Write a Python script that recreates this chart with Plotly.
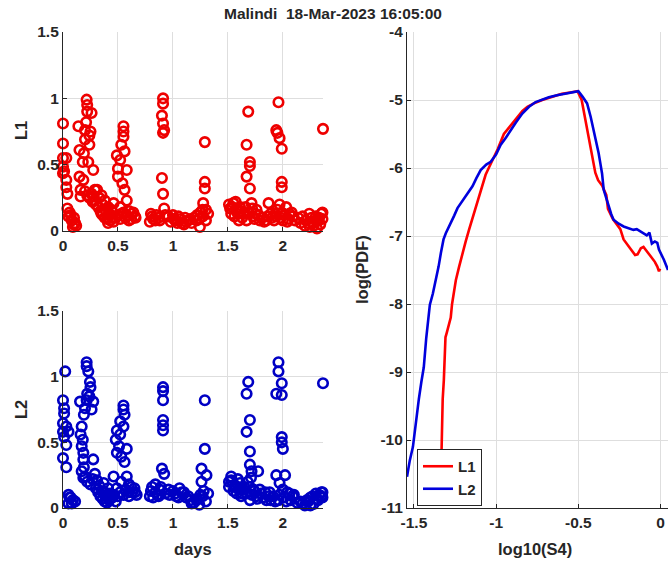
import plotly.graph_objects as go

# ---------------- data ----------------
# L1 scatter: (days, S4)
l1_points = [
    (0.0, 0.81), (0.0, 0.66), (0.0, 0.55), (0.0, 0.485), (0.0, 0.435), (0.01, 0.45),
    (0.03, 0.55), (0.03, 0.385), (0.03, 0.33), (0.04, 0.28), (0.04, 0.17), (0.05, 0.11),
    (0.06, 0.14), (0.08, 0.08), (0.11, 0.06), (0.09, 0.03), (0.1, 0.05), (0.12, 0.04),
    (0.14, 0.79), (0.15, 0.61), (0.15, 0.41), (0.16, 0.31), (0.16, 0.26), (0.185, 0.385),
    (0.18, 0.52), (0.19, 0.585), (0.2, 0.69), (0.2, 0.76), (0.21, 0.82), (0.215, 0.99),
    (0.22, 0.95), (0.22, 0.9), (0.24, 0.72), (0.26, 0.89), (0.23, 0.52), (0.275, 0.46),
    (0.24, 0.65), (0.25, 0.75), (0.26, 0.28), (0.29, 0.31), (0.31, 0.31), (0.29, 0.23),
    (0.33, 0.25), (0.35, 0.27), (0.35, 0.13), (0.36, 0.2), (0.38, 0.23), (0.39, 0.15),
    (0.41, 0.18), (0.42, 0.13), (0.43, 0.08), (0.41, 0.06), (0.45, 0.1), (0.44, 0.16),
    (0.46, 0.21), (0.49, 0.57), (0.5, 0.47), (0.5, 0.41), (0.53, 0.65), (0.52, 0.535),
    (0.55, 0.79), (0.55, 0.75), (0.55, 0.71), (0.56, 0.6), (0.54, 0.36), (0.56, 0.31),
    (0.58, 0.46), (0.58, 0.23), (0.53, 0.13), (0.52, 0.18), (0.6, 0.15), (0.625, 0.13),
    (0.655, 0.11), (0.6, 0.08), (0.57, 0.1),
    (0.91, 1.0), (0.91, 0.96), (0.9, 0.87), (0.91, 0.81), (0.92, 0.76), (0.91, 0.74),
    (0.9, 0.4), (0.91, 0.28), (0.92, 0.17), (0.81, 0.11), (0.84, 0.08), (0.79, 0.07),
    (0.87, 0.1), (0.96, 0.11), (1.0, 0.12), (1.02, 0.08), (1.05, 0.11), (1.08, 0.06),
    (1.11, 0.1), (1.14, 0.08), (1.17, 0.06), (1.215, 0.08), (1.245, 0.03),
    (1.29, 0.67), (1.29, 0.37), (1.29, 0.32), (1.275, 0.21), (1.3, 0.16), (1.27, 0.11),
    (1.32, 0.13), (1.3, 0.08),
    (1.52, 0.17), (1.53, 0.13), (1.55, 0.21), (1.58, 0.16), (1.61, 0.18), (1.56, 0.11),
    (1.6, 0.08), (1.64, 0.13), (1.67, 0.08), (1.685, 0.9), (1.67, 0.65), (1.7, 0.52),
    (1.7, 0.49), (1.67, 0.41), (1.7, 0.32), (1.715, 0.21), (1.73, 0.11), (1.76, 0.16),
    (1.79, 0.08), (1.75, 0.13), (1.87, 0.21), (1.89, 0.13), (1.92, 0.08), (1.85, 0.08),
    (1.96, 0.97), (1.94, 0.76), (1.95, 0.74), (1.97, 0.7), (1.99, 0.62), (1.99, 0.37),
    (1.99, 0.33), (1.97, 0.2), (1.99, 0.14), (2.03, 0.18), (2.06, 0.13), (2.09, 0.11),
    (2.0, 0.08), (1.94, 0.11), (2.04, 0.07),
    (2.18, 0.11), (2.21, 0.08), (2.245, 0.03), (2.27, 0.06), (2.3, 0.11), (2.35, 0.13),
    (2.32, 0.08), (2.24, 0.13), (2.34, 0.05), (2.365, 0.77),
]
# dense low-level L1 samples
l1_low_points = [
    (0.2, 0.3), (0.22, 0.27), (0.24, 0.25), (0.27, 0.22), (0.3, 0.2), (0.28, 0.26),
    (0.32, 0.18), (0.34, 0.15), (0.36, 0.12), (0.38, 0.1), (0.4, 0.09), (0.43, 0.12),
    (0.46, 0.07), (0.48, 0.1), (0.5, 0.12), (0.52, 0.09), (0.55, 0.14), (0.58, 0.12),
    (0.62, 0.09), (0.64, 0.14), (0.66, 0.1), (0.1, 0.1), (0.07, 0.12),
    (0.8, 0.13), (0.82, 0.09), (0.85, 0.12), (0.88, 0.08), (0.93, 0.12), (0.98, 0.07),
    (1.01, 0.09), (1.04, 0.06), (1.07, 0.09), (1.1, 0.05), (1.12, 0.07), (1.16, 0.09),
    (1.19, 0.1), (1.22, 0.12), (1.25, 0.14), (1.24, 0.09), (1.27, 0.16),
    (1.51, 0.2), (1.54, 0.18), (1.57, 0.22), (1.59, 0.13), (1.62, 0.15), (1.63, 0.1),
    (1.66, 0.18), (1.69, 0.14), (1.72, 0.17), (1.74, 0.09), (1.78, 0.12), (1.81, 0.1),
    (1.83, 0.07), (1.86, 0.11), (1.9, 0.1), (1.93, 0.13), (1.95, 0.16), (1.98, 0.1),
    (2.01, 0.12), (2.05, 0.09), (2.08, 0.14), (2.11, 0.08), (2.14, 0.1), (2.16, 0.06),
    (2.2, 0.04), (2.23, 0.06), (2.26, 0.1), (2.28, 0.04), (2.31, 0.02), (2.33, 0.1),
    (2.36, 0.14), (2.36, 0.09),
]

# L2 scatter: (days, S4)
l2_points = [
    (0.02, 1.04), (0.0, 0.82), (0.01, 0.76), (0.01, 0.72), (0.0, 0.645), (0.0, 0.58),
    (0.03, 0.62), (0.01, 0.54), (0.03, 0.48), (0.0, 0.38), (0.03, 0.31), (0.05, 0.58),
    (0.05, 0.1), (0.07, 0.08), (0.09, 0.06), (0.08, 0.035), (0.05, 0.035), (0.11, 0.05),
    (0.215, 1.11), (0.215, 1.08), (0.23, 1.04), (0.245, 0.96), (0.25, 0.92), (0.22, 0.87),
    (0.215, 0.82), (0.275, 0.81), (0.155, 0.81), (0.2, 0.76), (0.19, 0.71), (0.17, 0.62),
    (0.16, 0.56), (0.18, 0.52), (0.17, 0.47), (0.185, 0.42), (0.185, 0.37), (0.19, 0.31),
    (0.17, 0.28), (0.185, 0.23), (0.275, 0.37), (0.24, 0.85), (0.26, 0.75),
    (0.29, 0.26), (0.31, 0.21), (0.33, 0.17), (0.37, 0.19), (0.41, 0.15), (0.43, 0.11),
    (0.42, 0.06), (0.39, 0.09), (0.35, 0.13), (0.46, 0.24), (0.45, 0.08), (0.38, 0.12),
    (0.55, 0.78), (0.55, 0.75), (0.56, 0.71), (0.52, 0.66), (0.55, 0.62), (0.49, 0.59),
    (0.52, 0.56), (0.48, 0.52), (0.51, 0.47), (0.58, 0.45), (0.49, 0.42), (0.53, 0.39),
    (0.56, 0.35), (0.58, 0.24), (0.62, 0.16), (0.655, 0.12), (0.6, 0.12), (0.53, 0.2),
    (0.49, 0.15), (0.6, 0.09),
    (0.91, 0.92), (0.91, 0.89), (0.91, 0.82), (0.91, 0.67), (0.91, 0.63), (0.91, 0.59),
    (0.9, 0.3), (0.92, 0.26), (0.81, 0.16), (0.84, 0.12), (0.87, 0.09), (0.79, 0.09),
    (0.89, 0.16), (0.96, 0.14), (1.02, 0.11), (1.08, 0.12), (1.14, 0.09), (1.05, 0.08),
    (1.17, 0.035), (1.215, 0.06), (1.24, 0.025),
    (1.29, 0.82), (1.29, 0.45), (1.26, 0.3), (1.305, 0.25), (1.26, 0.2), (1.32, 0.11),
    (1.27, 0.09),
    (1.51, 0.16), (1.53, 0.21), (1.56, 0.16), (1.61, 0.19), (1.64, 0.14), (1.58, 0.11),
    (1.67, 0.11), (1.62, 0.09), (1.685, 0.96), (1.67, 0.87), (1.7, 0.67), (1.67, 0.58),
    (1.7, 0.43), (1.7, 0.33), (1.715, 0.28), (1.775, 0.28), (1.71, 0.23), (1.73, 0.14),
    (1.76, 0.09), (1.8, 0.11), (1.7, 0.06), (1.87, 0.09), (1.89, 0.06), (1.84, 0.12),
    (1.96, 1.11), (1.96, 1.04), (1.99, 0.95), (1.94, 0.87), (1.99, 0.86), (1.99, 0.54),
    (1.99, 0.5), (2.0, 0.45), (1.94, 0.25), (2.02, 0.25), (1.97, 0.19), (2.0, 0.14),
    (2.06, 0.11), (2.09, 0.09), (1.96, 0.06), (2.03, 0.05),
    (2.18, 0.035), (2.23, 0.05), (2.27, 0.09), (2.3, 0.11), (2.35, 0.12), (2.32, 0.06),
    (2.25, 0.02), (2.35, 0.09), (2.365, 0.95),
]
# dense low-level L2 samples
l2_low_points = [
    (0.2, 0.24), (0.22, 0.2), (0.25, 0.18), (0.27, 0.22), (0.3, 0.15), (0.32, 0.12),
    (0.34, 0.09), (0.36, 0.07), (0.38, 0.05), (0.4, 0.04), (0.43, 0.07), (0.46, 0.1),
    (0.48, 0.05), (0.5, 0.09), (0.52, 0.12), (0.55, 0.1), (0.57, 0.14), (0.6, 0.18),
    (0.63, 0.12), (0.65, 0.15), (0.67, 0.1), (0.06, 0.08),
    (0.8, 0.13), (0.82, 0.08), (0.84, 0.18), (0.86, 0.1), (0.88, 0.14), (0.93, 0.11),
    (0.97, 0.1), (1.0, 0.13), (1.03, 0.09), (1.06, 0.15), (1.1, 0.12), (1.12, 0.08),
    (1.16, 0.06), (1.19, 0.04), (1.22, 0.07), (1.25, 0.1), (1.28, 0.13), (1.3, 0.05),
    (1.51, 0.2), (1.53, 0.24), (1.55, 0.13), (1.57, 0.17), (1.59, 0.22), (1.6, 0.14),
    (1.63, 0.11), (1.65, 0.16), (1.68, 0.2), (1.7, 0.16), (1.72, 0.1), (1.74, 0.13),
    (1.77, 0.07), (1.79, 0.14), (1.82, 0.08), (1.85, 0.06), (1.88, 0.12), (1.91, 0.09),
    (1.93, 0.05), (1.97, 0.1), (2.01, 0.08), (2.04, 0.12), (2.07, 0.06), (2.1, 0.1),
    (2.13, 0.04), (2.16, 0.05), (2.2, 0.02), (2.22, 0.06), (2.25, 0.08), (2.28, 0.03),
    (2.3, 0.07), (2.33, 0.1), (2.36, 0.08), (2.36, 0.12),
]

# PDF curves: (log10(S4), log(PDF))
l1_curve = [
    (-1.335, -10.5), (-1.333, -10.2), (-1.33, -9.8), (-1.325, -9.4), (-1.318, -9.12),
    (-1.314, -8.8), (-1.308, -8.49), (-1.3, -8.42), (-1.288, -8.32), (-1.276, -8.2),
    (-1.268, -8.0), (-1.258, -7.84), (-1.245, -7.65), (-1.225, -7.45), (-1.205, -7.25),
    (-1.185, -7.08), (-1.165, -6.91), (-1.15, -6.79), (-1.135, -6.67), (-1.115, -6.5),
    (-1.094, -6.32), (-1.075, -6.2), (-1.064, -6.1), (-1.045, -6.0), (-1.02, -5.88),
    (-0.99, -5.72), (-0.953, -5.5), (-0.92, -5.4), (-0.88, -5.27), (-0.84, -5.16),
    (-0.81, -5.1), (-0.77, -5.05), (-0.72, -5.0), (-0.68, -4.97), (-0.65, -4.94),
    (-0.6, -4.91), (-0.55, -4.89), (-0.505, -4.87), (-0.48, -5.0), (-0.465, -5.2),
    (-0.445, -5.45), (-0.427, -5.69), (-0.41, -5.9), (-0.397, -6.07), (-0.38, -6.18),
    (-0.355, -6.26), (-0.33, -6.4), (-0.32, -6.6), (-0.29, -6.75), (-0.26, -6.84),
    (-0.245, -6.9), (-0.225, -7.05), (-0.205, -7.11), (-0.18, -7.2), (-0.155, -7.28),
    (-0.14, -7.27), (-0.12, -7.18), (-0.104, -7.16), (-0.085, -7.22), (-0.065, -7.28),
    (-0.053, -7.32), (-0.035, -7.38), (-0.02, -7.45), (-0.01, -7.52), (-0.003, -7.48),
]
l2_curve = [
    (-1.542, -10.54), (-1.525, -10.3), (-1.506, -10.1), (-1.49, -9.75), (-1.47, -9.4),
    (-1.455, -9.15), (-1.44, -8.93), (-1.425, -8.5), (-1.403, -8.01), (-1.385, -7.85),
    (-1.367, -7.65), (-1.35, -7.45), (-1.336, -7.25), (-1.32, -7.05), (-1.306, -6.96),
    (-1.29, -6.87), (-1.276, -6.81), (-1.255, -6.7), (-1.235, -6.59), (-1.21, -6.5),
    (-1.185, -6.42), (-1.165, -6.35), (-1.144, -6.27), (-1.12, -6.15), (-1.094, -6.03),
    (-1.06, -5.95), (-1.033, -5.91), (-1.0, -5.8), (-0.973, -5.66), (-0.94, -5.55),
    (-0.912, -5.44), (-0.88, -5.33), (-0.841, -5.2), (-0.8, -5.1), (-0.76, -5.03),
    (-0.73, -5.0), (-0.68, -4.96), (-0.63, -4.93), (-0.58, -4.91), (-0.54, -4.89),
    (-0.5, -4.87), (-0.475, -4.95), (-0.447, -5.05), (-0.425, -5.25), (-0.407, -5.44),
    (-0.39, -5.6), (-0.377, -5.78), (-0.365, -5.95), (-0.356, -6.08), (-0.346, -6.32),
    (-0.33, -6.45), (-0.316, -6.57), (-0.3, -6.68), (-0.286, -6.76), (-0.255, -6.82),
    (-0.225, -6.86), (-0.195, -6.88), (-0.165, -6.91), (-0.145, -6.9), (-0.124, -6.93),
    (-0.1, -6.97), (-0.084, -6.99), (-0.068, -6.95), (-0.053, -7.11), (-0.035, -7.08),
    (-0.02, -7.1), (-0.01, -7.2), (0.0, -7.25), (0.02, -7.35), (0.045, -7.5),
]

left_yticks = [0, 0.5, 1, 1.5]
left_xticks = [0, 0.5, 1, 1.5, 2]
right_yticks = [-11, -10, -9, -8, -7, -6, -5, -4]
right_xticks = [-1.5, -1, -0.5, 0]
title_text = "Malindi\u00a0\u00a018-Mar-2023 16:05:00"

# ---------------- figure ----------------
RED = "#ee0000"
BLUE = "#0000c4"
FONT = "Liberation Sans, Arial, sans-serif"
GRID = "#dedede"
INK = "#262626"

fig = go.Figure()
for pts, ax, col in ((l1_points + l1_low_points, ("x", "y"), RED),
                     (l2_points + l2_low_points, ("x2", "y2"), BLUE)):
    fig.add_trace(go.Scatter(
        x=[p[0] for p in pts], y=[p[1] for p in pts], mode="markers",
        marker=dict(symbol="circle-open", size=9.5, color=col, line=dict(width=2.6, color=col)),
        xaxis=ax[0], yaxis=ax[1], showlegend=False, cliponaxis=False))
fig.add_trace(go.Scatter(
    x=[p[0] for p in l1_curve], y=[p[1] for p in l1_curve], mode="lines",
    line=dict(color="#ff0000", width=2.6), name="L1", xaxis="x3", yaxis="y3"))
fig.add_trace(go.Scatter(
    x=[p[0] for p in l2_curve], y=[p[1] for p in l2_curve], mode="lines",
    line=dict(color="#0000dd", width=2.6), name="L2", xaxis="x3", yaxis="y3"))

W, H = 670, 565
def dx(a, b):
    return [a / W, b / W]
def dy(top, bottom):
    return [1 - bottom / H, 1 - top / H]

tickfont = dict(family=FONT, size=15.5, color=INK, weight="bold")
common = dict(showgrid=True, gridcolor=GRID, gridwidth=1, zeroline=False,
              showline=True, linecolor=INK, linewidth=1.2,
              ticks="inside", ticklen=4, tickcolor=INK,
              tickfont=tickfont, mirror=False, automargin=False)

def fmt(v):
    return "%g" % v

fig.update_layout(
    width=W, height=H, margin=dict(l=0, r=0, t=0, b=0, autoexpand=False),
    paper_bgcolor="white", plot_bgcolor="white",
    xaxis=dict(domain=dx(63, 323), anchor="y", range=[0, 2.365],
               tickvals=left_xticks, ticktext=[fmt(v) for v in left_xticks], **common),
    yaxis=dict(domain=dy(32, 231), anchor="x", range=[0, 1.5],
               tickvals=left_yticks, ticktext=[fmt(v) for v in left_yticks], **common),
    xaxis2=dict(domain=dx(63, 323), anchor="y2", range=[0, 2.365],
                tickvals=left_xticks, ticktext=[fmt(v) for v in left_xticks], **common),
    yaxis2=dict(domain=dy(311, 508), anchor="x2", range=[0, 1.5],
                tickvals=left_yticks, ticktext=[fmt(v) for v in left_yticks], **common),
    xaxis3=dict(domain=dx(407, 668), anchor="y3", range=[-1.542, 0.045],
                tickvals=right_xticks, ticktext=[fmt(v) for v in right_xticks], **common),
    yaxis3=dict(domain=dy(32, 508), anchor="x3", range=[-11, -4],
                tickvals=right_yticks, ticktext=[fmt(v) for v in right_yticks], **common),
    legend=dict(x=417 / W, y=1 - 449 / H, xanchor="left", yanchor="top",
                bgcolor="white", bordercolor=INK, borderwidth=1,
                font=dict(family=FONT, size=15, color=INK, weight="bold"),
                tracegroupgap=0, itemwidth=30),
)

labfont = dict(family=FONT, size=16.5, color=INK, weight="bold")
ann = [
    dict(text=title_text, x=333 / W, y=1 - 14 / H, font=dict(family=FONT, size=15.5, color=INK, weight="bold")),
    dict(text="L1", x=21 / W, y=1 - 131 / H, textangle=-90, font=labfont),
    dict(text="L2", x=21 / W, y=1 - 410 / H, textangle=-90, font=labfont),
    dict(text="days", x=193 / W, y=1 - 549 / H, font=labfont),
    dict(text="log10(S4)", x=535 / W, y=1 - 549 / H, font=labfont),
    dict(text="log(PDF)", x=362 / W, y=1 - 270 / H, textangle=-90, font=labfont),
]
for a in ann:
    fig.add_annotation(xref="paper", yref="paper", showarrow=False,
                       xanchor="center", yanchor="middle", **a)

fig.write_html("out.html")
